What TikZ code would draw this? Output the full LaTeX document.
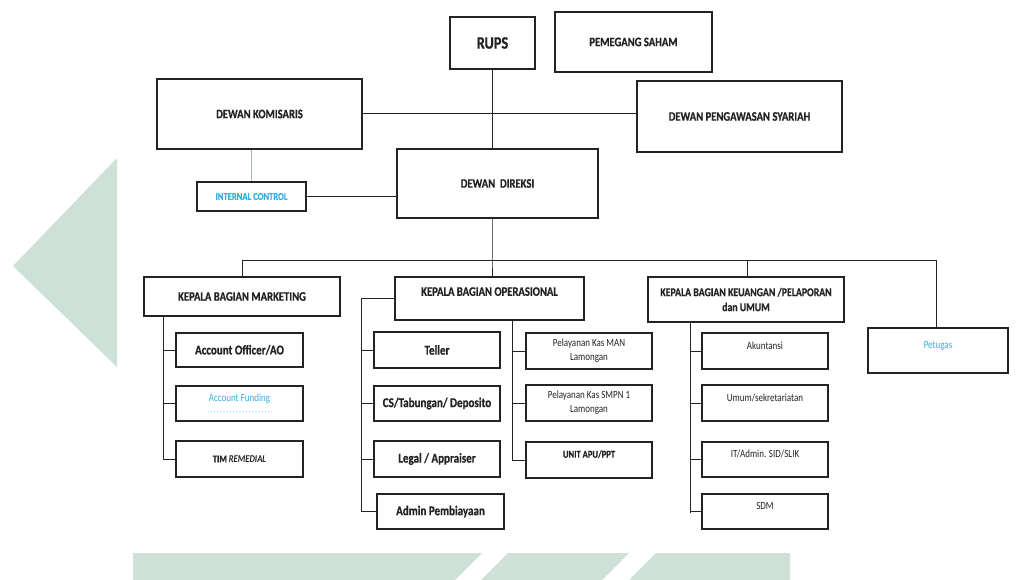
\documentclass[tikz,border=0pt]{standalone}
\usepackage{fontspec}
\setmainfont{Carlito}[FakeStretch=0.82, BoldFeatures={FakeBold=0.6}]
\definecolor{sage}{RGB}{205,225,214}
\definecolor{ln}{RGB}{35,35,35}
\definecolor{cy}{RGB}{55,175,225}
\definecolor{icline}{RGB}{160,185,210}
\tikzset{
  obox/.style={draw=ln, line width=1.1bp, inner sep=1bp, align=center, text=ln},
  conn/.style={draw=ln, line width=1bp},
  hd/.style={font=\fontsize{13}{14}\selectfont\bfseries},
  kid/.style={font=\fontsize{13.5}{15}\selectfont\bfseries},
  small/.style={font=\fontsize{11}{14}\selectfont},
  smallb/.style={font=\fontsize{10.5}{12}\selectfont\bfseries},
  kecil/.style={font=\fontsize{11}{11}\selectfont},
  faint/.style={text=cy}
}
\newcommand{\orgbox}[6][]{%
  \node[obox,#1,minimum width={(#5-#3)*1bp},minimum height={(#6-#4)*1bp}] (#2) at ({(#3+#5)/2},{(#4+#6)/2})}
\newcommand{\upt}[1]{#1\\\mbox{}}
\begin{document}
\begin{tikzpicture}[x=1bp,y=-1bp]
\useasboundingbox (0,0) rectangle (1030,580);
\fill[white] (0,0) rectangle (1030,580);
% background shapes
\fill[sage] (13,266) -- (117,158) -- (117,367) -- cycle;
\fill[sage] (133,553) -- (482,553) -- (455,580) -- (133,580) -- cycle;
\fill[sage] (508,553) -- (629,553) -- (602,580) -- (481,580) -- cycle;
\fill[sage] (656,553) -- (790,553) -- (790,580) -- (629,580) -- cycle;

% top level
\orgbox[font=\fontsize{17.5}{19}\selectfont\bfseries]{rups}{450}{17}{535}{69} {RUPS};
\orgbox[hd]{saham}{555}{12}{712}{72} {PEMEGANG SAHAM};
\orgbox[hd]{kom}{157}{79}{362}{149} {DEWAN KOMISARIS};
\orgbox[hd]{dps}{637}{81}{842}{152} {DEWAN PENGAWASAN SYARIAH};
\orgbox[hd]{dir}{397}{149}{598}{218} {DEWAN\ \ DIREKSI};
\orgbox[smallb,faint]{ic}{197}{182}{306}{211} {INTERNAL CONTROL};

% department heads
\orgbox[hd]{mkt}{144}{277}{340}{316} {KEPALA BAGIAN MARKETING};
\orgbox[hd]{ops}{395}{277}{584}{320} {\upt{KEPALA BAGIAN OPERASIONAL}};
\orgbox[font=\fontsize{12}{15}\selectfont\bfseries]{keu}{648}{277}{844}{322} {KEPALA BAGIAN KEUANGAN /PELAPORAN\\dan UMUM};
\orgbox[kecil,faint]{pj}{868}{328}{1008}{373} {\upt{Petugas}};

% marketing children
\orgbox[kid]{ao}{176}{333}{303}{367} {Account Officer/AO};
\orgbox[kecil,faint]{af}{176}{386}{303}{421} {\upt{Account Funding}};
\orgbox[smallb]{rem}{176}{441}{303}{477} {TIM \textit{REMEDIAL}};
\draw[cy!45, dotted, line width=1.2bp] ([xshift=-32bp,yshift=-8bp]af.center) -- ([xshift=32bp,yshift=-8bp]af.center);

% operasional children
\orgbox[kid]{teller}{374}{332}{500}{368} {Teller};
\orgbox[kid]{cs}{374}{386}{500}{421} {CS/Tabungan/ Deposito};
\orgbox[kid]{legal}{374}{441}{500}{477} {Legal / Appraiser};
\orgbox[kid]{admin}{377}{494}{504}{529} {Admin Pembiayaan};
\orgbox[small]{man}{526}{333}{652}{369} {Pelayanan Kas MAN\\Lamongan};
\orgbox[small]{smpn}{526}{385}{652}{421} {Pelayanan Kas SMPN 1\\Lamongan};
\orgbox[smallb]{apu}{526}{442}{652}{478} {\upt{UNIT APU/PPT}};

% keuangan children
\orgbox[kecil]{akt}{702}{333}{828}{369} {\upt{Akuntansi}};
\orgbox[kecil]{umum}{702}{385}{828}{421} {\upt{Umum/sekretariatan}};
\orgbox[kecil]{it}{702}{442}{828}{477} {\upt{IT/Admin. SID/SLIK}};
\orgbox[kecil]{sdm}{702}{494}{828}{529} {\upt{SDM}};

% connectors top
\draw[conn] (rups.south) -- (rups.south |- dir.north);
\draw[conn] (kom.east) -- (kom.east -| dps.west);
\draw[conn, draw=icline] (ic.north) -- (ic.north |- kom.south);
\draw[conn] (ic.east) -- (ic.east -| dir.west);

% bus
\coordinate (bus) at (492,261);
\coordinate (busL) at (242,261);
\coordinate (busR) at (936,261);
\coordinate (busK) at (747,261);
\draw[conn] (dir.south -| bus) -- (bus) -- (bus |- ops.north);
\draw[conn] (busL |- mkt.north) -- (busL) -- (busR) -- (busR |- pj.north);
\draw[conn] (busK) -- (busK |- keu.north);

% marketing spine
\coordinate (ms) at (163,459);
\draw[conn] (ms |- mkt.south) -- (ms);
\foreach \n in {ao,af,rem} \draw[conn] (\n.west) -- (\n.west -| ms);

% operasional spines
\coordinate (ol) at (361,512);
\draw[conn] (ops.west) -- (ops.west -| ol) -- (ol);
\foreach \n in {teller,cs,legal,admin} \draw[conn] (\n.west) -- (\n.west -| ol);
\coordinate (orr) at (512,460);
\draw[conn] (orr |- ops.south) -- (orr);
\foreach \n in {man,smpn,apu} \draw[conn] (\n.west) -- (\n.west -| orr);

% keuangan spine
\coordinate (ks) at (690,513);
\draw[conn] (ks |- keu.south) -- (ks);
\foreach \n in {akt,umum,it,sdm} \draw[conn] (\n.west) -- (\n.west -| ks);
\end{tikzpicture}
\end{document}
